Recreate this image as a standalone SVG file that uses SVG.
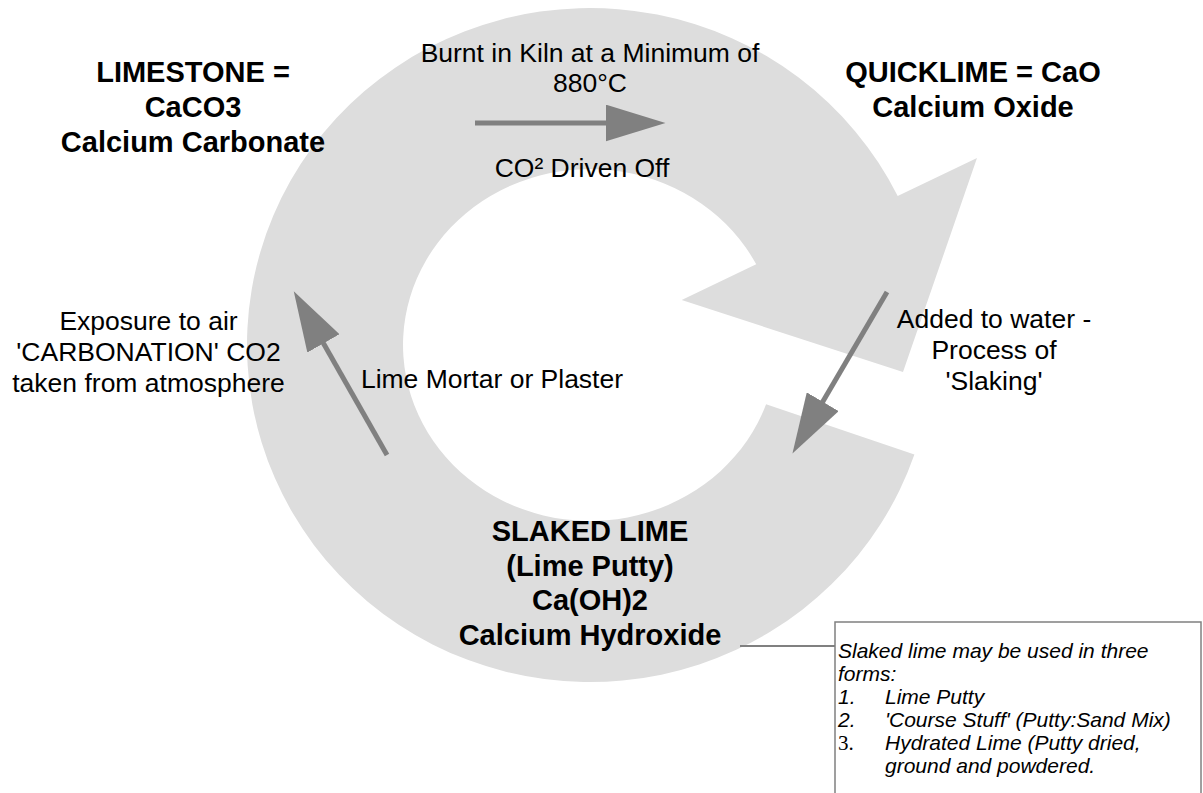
<svg xmlns="http://www.w3.org/2000/svg" width="1203" height="793" viewBox="0 0 1203 793">
  <style>
    .t { font-family: "Liberation Sans", Arial, sans-serif; font-size: 26.5px; fill: #000; text-anchor: middle; }
    .b { font-family: "Liberation Sans", Arial, sans-serif; font-size: 29px; font-weight: bold; fill: #000; text-anchor: middle; }
    .n { font-family: "Liberation Sans", Arial, sans-serif; font-size: 21px; font-style: italic; fill: #000; }
    .ns { font-family: "Liberation Serif", "Times New Roman", serif; font-size: 21px; fill: #000; }
    .arrow { stroke: #808080; stroke-width: 5; fill: none; marker-end: url(#head); }
    .callout { stroke: #808080; stroke-width: 2; fill: none; }
  </style>
  <defs>
    <marker id="head" viewBox="0 0 12 7.4" refX="0.3" refY="3.7" markerWidth="12" markerHeight="7.4" orient="auto" markerUnits="strokeWidth">
      <path d="M0,0 L12,3.7 L0,7.4 Z" fill="#808080"/>
    </marker>
  </defs>
  <rect width="1203" height="793" fill="#fff"/>

  <g id="cycle-ring">
    <path d="M 914.4 454.5 A 343 337 0 1 1 897.7 196.1 L 977 158 L 903 372 L 681.7 300 L 756.2 264.3 A 187 176 0 1 0 766.1 404.3 Z" fill="#DDDDDD"/>
  </g>

  <g id="connectors">
    <line class="arrow" x1="475" y1="123" x2="607" y2="123"/>
    <line class="arrow" x1="887" y1="292" x2="822" y2="403"/>
    <line class="arrow" x1="387" y1="455" x2="322.7" y2="342.1"/>
    <line class="callout" x1="740" y1="646" x2="835" y2="646"/>
  </g>

  <g id="limestone">
    <text class="b" x="193" y="82">LIMESTONE =</text>
    <text class="b" x="193" y="117">CaCO3</text>
    <text class="b" x="193" y="152">Calcium Carbonate</text>
  </g>

  <g id="quicklime">
    <text class="b" x="973" y="82">QUICKLIME = CaO</text>
    <text class="b" x="973" y="117">Calcium Oxide</text>
  </g>

  <g id="slaked-lime">
    <text class="b" x="590" y="541">SLAKED LIME</text>
    <text class="b" x="590" y="576">(Lime Putty)</text>
    <text class="b" x="590" y="610">Ca(OH)2</text>
    <text class="b" x="590" y="645">Calcium Hydroxide</text>
  </g>

  <g id="label-burn">
    <text class="t" x="590" y="62">Burnt in Kiln at a Minimum of</text>
    <text class="t" x="590" y="92">880°C</text>
  </g>

  <g id="label-co2">
    <text class="t" x="582" y="177">CO² Driven Off</text>
  </g>

  <g id="label-slaking">
    <text class="t" x="994" y="328">Added to water -</text>
    <text class="t" x="994" y="359">Process of</text>
    <text class="t" x="994" y="390">'Slaking'</text>
  </g>

  <g id="label-carbonation">
    <text class="t" x="148.5" y="330">Exposure to air</text>
    <text class="t" x="148.5" y="361">'CARBONATION' CO2</text>
    <text class="t" x="148.5" y="392">taken from atmosphere</text>
  </g>

  <g id="label-mortar">
    <text class="t" x="492" y="388">Lime Mortar or Plaster</text>
  </g>

  <g id="note">
    <rect x="835" y="622" width="366" height="200" fill="none" stroke="#808080" stroke-width="1.5"/>
    <text class="n" x="838" y="658">Slaked lime may be used in three</text>
    <text class="n" x="838" y="681">forms:</text>
    <text class="n" x="838" y="704">1.</text>
    <text class="n" x="885" y="704">Lime Putty</text>
    <text class="n" x="838" y="727">2.</text>
    <text class="n" x="885" y="727">'Course Stuff' (Putty:Sand Mix)</text>
    <text class="ns" x="838" y="750">3.</text>
    <text class="n" x="885" y="750">Hydrated Lime (Putty dried,</text>
    <text class="n" x="885" y="773">ground and powdered.</text>
  </g>
</svg>
